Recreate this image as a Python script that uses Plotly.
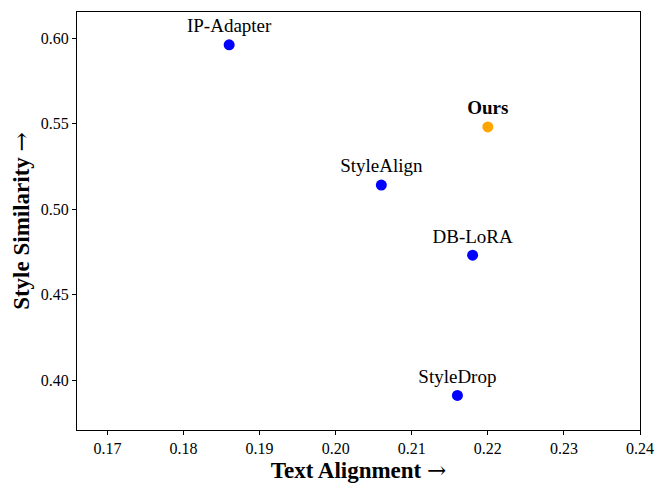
import plotly.graph_objects as go

methods = ["IP-Adapter", "StyleAlign", "DB-LoRA", "StyleDrop", "Ours"]
text_alignment = [0.186, 0.206, 0.218, 0.216, 0.220]
style_similarity = [0.596, 0.514, 0.473, 0.391, 0.548]
point_colors = ["#0000ff", "#0000ff", "#0000ff", "#0000ff", "#ffa500"]
x_ticks = [0.17, 0.18, 0.19, 0.20, 0.21, 0.22, 0.23, 0.24]
y_ticks = [0.40, 0.45, 0.50, 0.55, 0.60]

SERIF = "Liberation Serif, Times New Roman, serif"
ARROW = '<span style="font-family:DejaVu Serif;font-weight:normal">→</span>'

labels = ["<b>" + m + "</b>" if m == "Ours" else m for m in methods]

fig = go.Figure()
fig.add_trace(go.Scatter(
    x=text_alignment, y=style_similarity, mode="markers+text",
    text=labels, textposition="top center",
    textfont=dict(family=SERIF, size=19, color="black"),
    marker=dict(size=11, color=point_colors),
    showlegend=False,
))

axis_style = dict(
    showline=True, linecolor="black", linewidth=1.2, mirror=True,
    ticks="outside", ticklen=4, tickcolor="black",
    showgrid=False, zeroline=False,
    tickfont=dict(family=SERIF, size=16, color="black"),
)
fig.update_xaxes(**axis_style)
fig.update_yaxes(**axis_style)
fig.update_xaxes(range=[0.166, 0.24], tickvals=x_ticks,
                 ticktext=["%.2f" % v for v in x_ticks],
                 title=dict(text="<b>Text Alignment </b>" + ARROW, standoff=4,
                            font=dict(family=SERIF, size=23, color="black")))
fig.update_yaxes(range=[0.3708, 0.6152], tickvals=y_ticks,
                 ticktext=["%.2f" % v for v in y_ticks],
                 title=dict(text="<b>Style Similarity </b>" + ARROW, standoff=6,
                            font=dict(family=SERIF, size=23, color="black")))
fig.update_layout(
    width=657, height=486,
    font=dict(family=SERIF, color="black"),
    margin=dict(l=69, r=25, t=4, b=64),
    plot_bgcolor="white", paper_bgcolor="white",
)
fig.write_html("out.html")
